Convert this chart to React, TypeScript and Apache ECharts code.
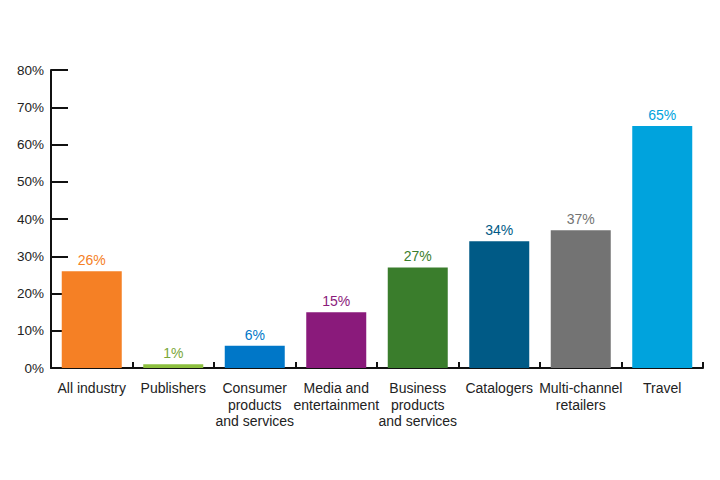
import React, { useEffect, useRef } from "react";
import * as echarts from "echarts";

const categories = [
  "All industry",
  "Publishers",
  "Consumer\nproducts\nand services",
  "Media and\nentertainment",
  "Business\nproducts\nand services",
  "Catalogers",
  "Multi-channel\nretailers",
  "Travel",
];
const values = [26, 1, 6, 15, 27, 34, 37, 65];
const barColors = ["#f58025", "#8cbf3f", "#0077c8", "#8a1a7b", "#3a7d2c", "#005a86", "#737373", "#00a3dd"];
const labelColors = ["#f58025", "#7aa73a", "#0077c8", "#8a1a7b", "#3a7d2c", "#005a86", "#737373", "#00a3dd"];
const yTicks = [0, 10, 20, 30, 40, 50, 60, 70, 80];

export default function App() {
  const ref = useRef<HTMLDivElement>(null);
  useEffect(() => {
    const chart = echarts.init(ref.current!, null, { renderer: "svg" });
    chart.setOption({
      animation: false,
      backgroundColor: "#ffffff",
      textStyle: { fontFamily: "Liberation Sans, Arial, sans-serif" },
      grid: { left: 51, right: 17, top: 70, bottom: 112, containLabel: false },
      xAxis: {
        type: "category",
        data: categories,
        axisLine: { lineStyle: { color: "#111", width: 2 } },
        axisTick: { show: true, inside: true, length: 6, lineStyle: { color: "#111", width: 2 } },
        axisLabel: {
          color: "#222",
          fontSize: 14,
          lineHeight: 16.5,
          margin: 12,
          interval: 0,
          fontFamily: "Liberation Sans, Arial, sans-serif",
        },
      },
      yAxis: {
        type: "value",
        min: yTicks[0],
        max: yTicks[yTicks.length - 1],
        interval: 10,
        axisLine: { show: true, lineStyle: { color: "#111", width: 2 } },
        axisTick: { show: true, inside: true, length: 17, lineStyle: { color: "#111", width: 2 } },
        splitLine: { show: false },
        axisLabel: {
          color: "#222",
          fontSize: 13.5,
          margin: 7,
          formatter: "{value}%",
          fontFamily: "Liberation Sans, Arial, sans-serif",
        },
      },
      series: [
        {
          type: "bar",
          barWidth: 60,
          data: values.map((v, i) => ({
            value: v,
            itemStyle: { color: barColors[i] },
            label: { color: labelColors[i] },
          })),
          label: {
            show: true,
            position: "top",
            distance: 4,
            fontSize: 14,
            formatter: "{c}%",
            fontFamily: "Liberation Sans, Arial, sans-serif",
          },
        },
      ],
    });
    return () => chart.dispose();
  }, []);
  return <div ref={ref} style={{ width: 720, height: 480, position: "fixed", left: 0, top: 0 }} />;
}
